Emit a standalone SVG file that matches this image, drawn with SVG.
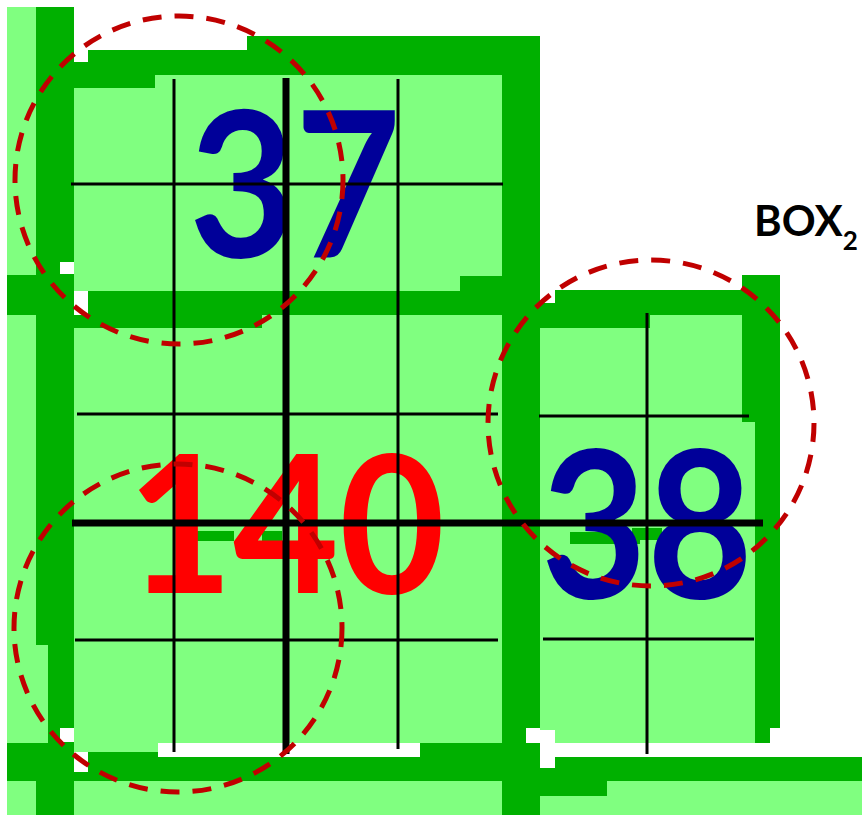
<svg xmlns="http://www.w3.org/2000/svg" width="865" height="815" viewBox="0 0 865 815">
<style>
.lt{fill:#80FF80}
.dk{fill:#00B000}
.wh{fill:#FFFFFF}
.thin{stroke:#000;stroke-width:3;fill:none}
.thick{stroke:#000;stroke-width:7;fill:none}
.circ{fill:none;stroke:#C00000;stroke-width:5;stroke-dasharray:19 13}
.num{font-family:Lato,"Liberation Sans",sans-serif;font-weight:700;text-anchor:middle}
.blue{fill:#000099}
.red{fill:#FF0000}
.lbl{font-family:Lato,"Liberation Sans",sans-serif;font-weight:700;fill:#000}
</style>
<rect width="865" height="815" fill="#FFFFFF"/>
<g id="background">
<rect class="lt" x="7" y="7" width="67" height="808"/>
<rect class="lt" x="74" y="75" width="428" height="668"/>
<rect class="lt" x="74" y="740" width="84" height="12"/>
<rect class="lt" x="540" y="315" width="215" height="428"/>
<rect class="lt" x="7" y="781" width="855" height="34"/>
</g>
<g id="borders">
<rect class="dk" x="36" y="7" width="38" height="638"/>
<rect class="dk" x="48" y="645" width="26" height="98"/>
<rect class="dk" x="36" y="743" width="38" height="72"/>
<rect class="dk" x="74" y="62" width="81" height="26"/>
<rect class="dk" x="88" y="50" width="159" height="25"/>
<rect class="dk" x="247" y="36" width="293" height="39"/>
<rect class="dk" x="502" y="36" width="38" height="779"/>
<rect class="dk" x="7" y="275" width="67" height="40"/>
<rect class="dk" x="88" y="291" width="414" height="24"/>
<rect class="dk" x="460" y="276" width="42" height="16"/>
<rect class="dk" x="74" y="315" width="188" height="13"/>
<rect class="dk" x="555" y="290" width="225" height="25"/>
<rect class="dk" x="540" y="303" width="15" height="12"/>
<rect class="dk" x="540" y="315" width="110" height="13"/>
<rect class="dk" x="742" y="275" width="38" height="147"/>
<rect class="dk" x="755" y="422" width="25" height="306"/>
<rect class="dk" x="755" y="728" width="15" height="15"/>
<rect class="dk" x="7" y="743" width="67" height="38"/>
<rect class="dk" x="74" y="752" width="84" height="29"/>
<rect class="dk" x="158" y="757" width="704" height="24"/>
<rect class="dk" x="420" y="743" width="82" height="14"/>
<rect class="dk" x="540" y="781" width="67" height="15"/>
<rect class="wh" x="74" y="50" width="14" height="12"/>
<rect class="wh" x="74" y="291" width="14" height="24"/>
<rect class="wh" x="60" y="262" width="14" height="12"/>
<rect class="wh" x="60" y="728" width="14" height="14"/>
<rect class="wh" x="74" y="752" width="14" height="20"/>
<rect class="wh" x="158" y="743" width="262" height="14"/>
<rect class="wh" x="526" y="728" width="14" height="15"/>
<rect class="wh" x="540" y="730" width="15" height="38"/>
<rect class="wh" x="540" y="275" width="15" height="28"/>
<rect class="wh" x="555" y="743" width="307" height="14"/>
<rect class="dk" x="190" y="531" width="44" height="10"/>
<rect class="dk" x="262" y="531" width="20" height="10"/>
<rect class="dk" x="570" y="532" width="70" height="12"/>
<rect class="dk" x="632" y="528" width="30" height="12"/>
</g>
<g id="labels">
<text class="num blue" x="295" y="257" font-size="204" textLength="212" lengthAdjust="spacingAndGlyphs">37</text>
<text class="num red" x="286" y="593" font-size="192" textLength="318" lengthAdjust="spacingAndGlyphs">140</text>
<text class="num blue" x="647" y="598" font-size="206" textLength="212" lengthAdjust="spacingAndGlyphs">38</text>
<text class="lbl" x="754" y="236" font-size="42">BOX<tspan dy="14" font-size="26">2</tspan></text>
</g>
<g id="grid">
<line class="thin" x1="174" y1="79" x2="174" y2="752"/>
<line class="thin" x1="398" y1="79" x2="398" y2="749"/>
<line class="thick" x1="286" y1="78" x2="286" y2="754"/>
<line class="thin" x1="71" y1="184" x2="503" y2="184"/>
<line class="thin" x1="77" y1="414" x2="498" y2="414"/>
<line class="thin" x1="75" y1="640" x2="498" y2="640"/>
<line class="thick" x1="72" y1="523" x2="763" y2="523"/>
<line class="thin" x1="647" y1="313" x2="647" y2="754"/>
<line class="thin" x1="539" y1="416" x2="749" y2="416"/>
<line class="thin" x1="543" y1="639" x2="754" y2="639"/>
</g>
<g id="circles">
<circle class="circ" cx="179" cy="180" r="164"/>
<circle class="circ" cx="178" cy="628" r="164"/>
<circle class="circ" cx="651" cy="423" r="163"/>
</g>
</svg>
